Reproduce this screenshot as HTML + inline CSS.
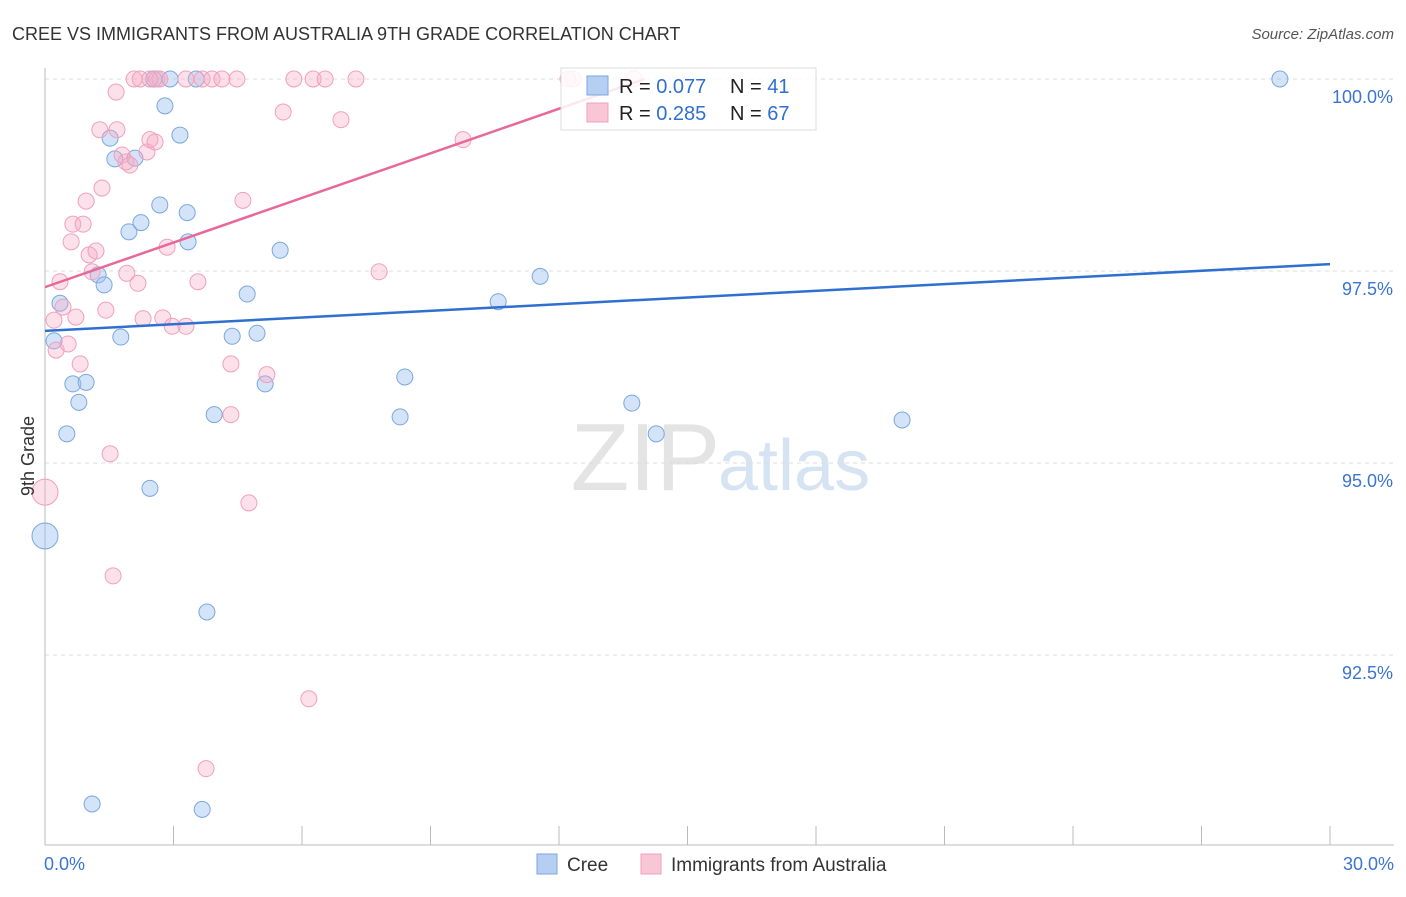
<!DOCTYPE html>
<html><head><meta charset="utf-8"><style>
body{margin:0;background:#fff;font-family:"Liberation Sans",sans-serif;}
svg text{font-family:"Liberation Sans",sans-serif;}
</style></head><body>
<svg id="chart" width="1406" height="892" xmlns="http://www.w3.org/2000/svg">
<text x="12" y="40" font-size="18" fill="#333">CREE VS IMMIGRANTS FROM AUSTRALIA 9TH GRADE CORRELATION CHART</text>
<text x="1394" y="39" font-size="15" fill="#555" font-style="italic" text-anchor="end">Source: ZipAtlas.com</text>
<text x="720" y="490" font-size="96" fill="#e4e4e4" text-anchor="end" font-family="Liberation Serif">ZIP</text>
<text x="718" y="490" font-size="72" fill="#d6e3f3">atlas</text>
<g id="grid"></g>
<g id="axes"></g>
<g id="pts"></g>
<g id="lines"></g>
<text transform="translate(34,456) rotate(-90)" font-size="18" fill="#333" text-anchor="middle">9th Grade</text>
<g>
<rect x="561" y="68" width="255" height="62" fill="rgba(255,255,255,0.85)" stroke="#ddd"/>
<rect x="587" y="76" width="21" height="19" fill="#b5cff2" stroke="#7aa7e0"/>
<rect x="587" y="103" width="21" height="19" fill="#f9c6d6" stroke="#f0a0bc"/>
<text x="619" y="93" font-size="20" fill="#222">R = <tspan fill="#2f6fd0">0.077</tspan></text>
<text x="730" y="93" font-size="20" fill="#222">N = <tspan fill="#2f6fd0">41</tspan></text>
<text x="619" y="120" font-size="20" fill="#222">R = <tspan fill="#2f6fd0">0.285</tspan></text>
<text x="730" y="120" font-size="20" fill="#222">N = <tspan fill="#2f6fd0">67</tspan></text>
</g>
<g>
<rect x="537" y="854" width="20" height="20" fill="#b5cff2" stroke="#7aa7e0"/>
<text x="567" y="871" font-size="19" fill="#333">Cree</text>
<rect x="641" y="854" width="20" height="20" fill="#f9c6d6" stroke="#f0a0bc"/>
<text x="671" y="871" font-size="19" fill="#333">Immigrants from Australia</text>
</g>
</svg>
<script>
const yTicks=[100,97.5,95,92.5];
const yTickLabels=["100.0%","97.5%","95.0%","92.5%"];
const xTicks=[0,3,6,9,12,15,18,21,24,27,30];
const xEndLabels=["0.0%","30.0%"];
const creeX=[0,0.35,0.21,0.51,0.65,0.96,0.79,1.10,1.24,1.38,1.52,1.63,1.77,1.96,2.10,2.24,2.45,2.54,2.68,2.80,2.92,3.15,3.32,3.34,3.53,3.78,3.67,3.95,4.37,4.72,4.95,5.14,5.49,8.29,8.40,10.58,11.56,13.70,14.27,20.01,28.83];
const creeY=[94.05,97.08,96.59,95.38,96.03,96.05,95.79,90.56,97.45,97.32,99.23,98.96,96.64,98.01,98.97,98.13,94.67,100,98.36,99.65,100,99.27,98.26,97.88,100,93.06,90.49,95.63,96.65,97.20,96.69,96.03,97.77,95.60,96.12,97.10,97.43,95.78,95.38,95.56,100];
const ausX=[0,0.21,0.26,0.35,0.42,0.54,0.61,0.65,0.72,0.82,0.89,0.96,1.03,1.10,1.19,1.28,1.33,1.42,1.52,1.59,1.66,1.68,1.80,1.89,1.91,1.98,2.08,2.17,2.29,2.38,2.45,2.57,2.61,2.75,2.85,2.97,3.29,3.57,3.67,3.76,3.90,4.13,4.34,4.34,4.48,4.62,4.76,5.18,5.56,5.81,6.16,6.26,6.54,6.91,7.26,7.80,9.76,12.21,12.33,13.75,2.22,2.68,3.29,2.45];
const ausY=[94.62,96.86,96.47,97.36,97.03,96.55,97.88,98.11,96.90,96.29,98.11,98.41,97.71,97.49,97.76,99.34,98.58,96.99,95.12,93.53,99.83,99.34,99.01,98.92,97.47,98.88,100,97.34,96.88,99.05,99.21,99.18,100,96.89,97.81,96.78,96.78,97.36,100,91.02,100,100,96.29,95.63,100,98.42,94.48,96.15,99.57,100,91.93,100,100,99.47,100,97.49,99.21,100,100,100,100,100,100,100];
const creeTrend=[96.72,97.59]; // y at x=0 and x=30
const ausTrend=[97.29,100.0]; // y at x=0 and x=ausTrendEnd
const ausTrendEnd=[14.0];
const NS="http://www.w3.org/2000/svg";
const X=v=>45+v*(1330-45)/30;
const Y=v=>79+(100-v)*76.8;
function mk(t,a,p){const e=document.createElementNS(NS,t);for(const k in a)e.setAttribute(k,a[k]);p.appendChild(e);return e;}
const grid=document.getElementById('grid'),axes=document.getElementById('axes'),pts=document.getElementById('pts'),lines=document.getElementById('lines');
yTicks.forEach((v,i)=>{
 const l=mk('line',{x1:45,x2:1394,y1:Y(v),y2:Y(v),stroke:'#ddd','stroke-dasharray':'4,4'},grid);
 
 
 const t=mk('text',{x:1393,y:Y(v)+24,'font-size':18,fill:'#3b74d1','text-anchor':'end'},axes);
 t.textContent=yTickLabels[i];
 
 
});
const ya=mk('line',{x1:45,x2:45,y1:68,y2:845,stroke:'#bbb'},axes);


const xa=mk('line',{x1:45,x2:1394,y1:845,y2:845,stroke:'#bbb'},axes);


xTicks.forEach(v=>{
 const l=mk('line',{x1:X(v),x2:X(v),y1:826,y2:845,stroke:'#bbb'},axes);
 
 
});
[[0,'start',44],[30,'end',1394]].forEach((d,i)=>{
 const t=mk('text',{x:d[2],y:870,'font-size':18,fill:'#3b74d1','text-anchor':d[1]},axes);
 t.textContent=xEndLabels[i];
 
 
});
function dots(xs,ys,fill,stroke,name){
 xs.forEach((x,i)=>{
  const big=(x===0);
  const c=mk('circle',{cx:X(x),cy:Y(ys[i]),r:big?13:8,fill:fill,stroke:stroke,'stroke-width':1},pts);
  
  
 });
}
dots(creeX,creeY,'rgba(160,195,240,0.45)','#7aa7e0','cree-point');
dots(ausX,ausY,'rgba(245,170,195,0.35)','#f0a0bc','australia-point');
const l1=mk('line',{x1:X(0),y1:Y(creeTrend[0]),x2:X(30),y2:Y(creeTrend[1]),stroke:'#2f6fd0','stroke-width':2.5},lines);


const l2=mk('line',{x1:X(0),y1:Y(ausTrend[0]),x2:X(ausTrendEnd[0]),y2:Y(ausTrend[1]),stroke:'#e8689a','stroke-width':2.5},lines);


</script>
</body></html>
